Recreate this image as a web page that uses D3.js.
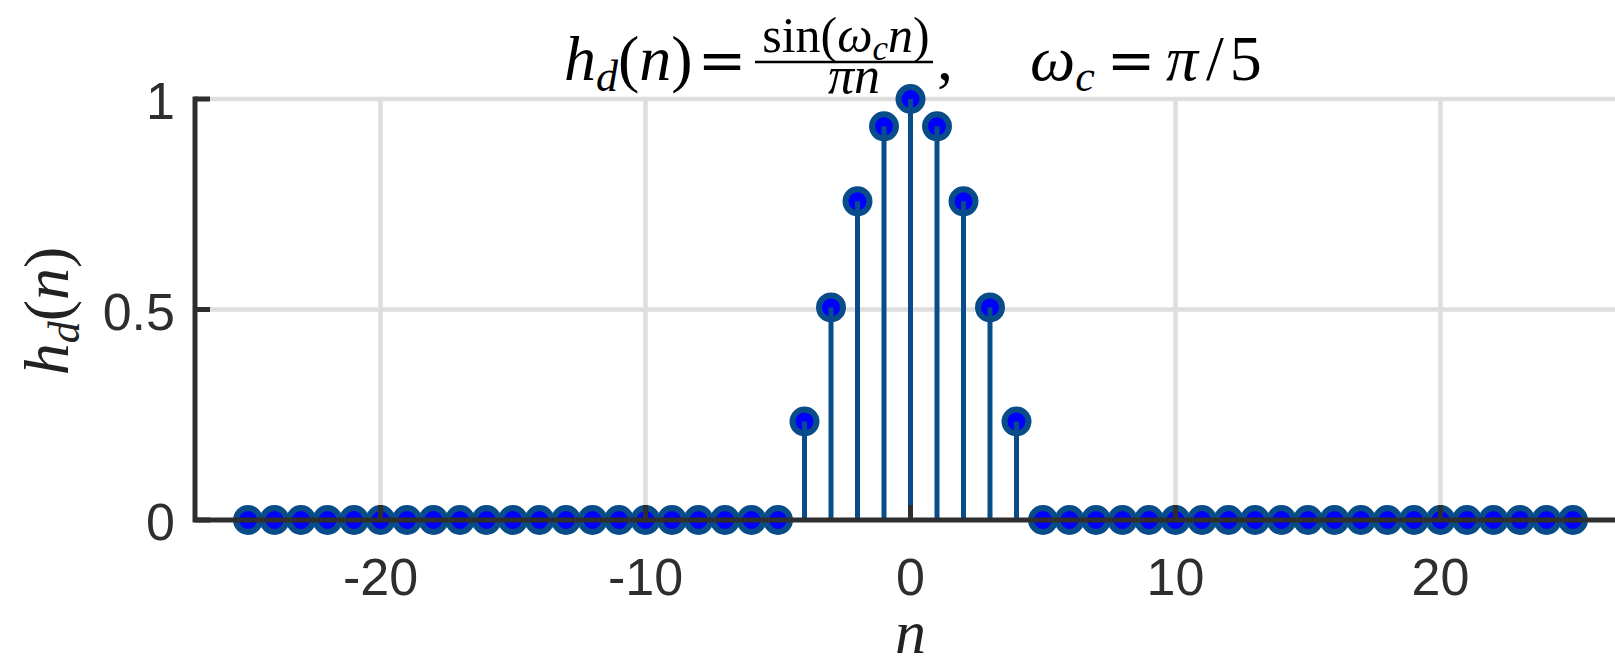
<!DOCTYPE html>
<html>
<head>
<meta charset="utf-8">
<script src="https://cdn.jsdelivr.net/npm/d3@7"></script>
<style>
  html, body { margin: 0; padding: 0; background: #fff; }
  svg { display: block; }
</style>
</head>
<body>
<svg id="chart" width="1615" height="662"></svg>
<script>
// Sample index n and ideal low-pass impulse response (normalised to h(0) = 1)
const sampleIndex = [
  -25, -24, -23, -22, -21, -20, -19, -18, -17, -16, -15, -14, -13, -12, -11,
  -10, -9, -8, -7, -6, -5, -4, -3, -2, -1, 0, 1, 2, 3, 4, 5, 6, 7, 8, 9, 10,
  11, 12, 13, 14, 15, 16, 17, 18, 19, 20, 21, 22, 23, 24, 25
];
const responseValues = [
  0, 0, 0, 0, 0, 0, 0, 0, 0, 0, 0, 0, 0, 0, 0,
  0, 0, 0, 0, 0, 0, 0.234, 0.505, 0.757, 0.935, 1, 0.935, 0.757, 0.505, 0.234, 0,
  0, 0, 0, 0, 0,
  0, 0, 0, 0, 0, 0, 0, 0, 0, 0, 0, 0, 0, 0, 0
];
const xTicks = [-20, -10, 0, 10, 20];
const yTicks = [0, 0.5, 1];
const yTickLabels = ["0", "0.5", "1"];

const W = 1615, H = 662;
const plotLeft = 195, plotTop = 99, plotBottom = 520;

const svg = d3.select("#chart");
const x = d3.scaleLinear().domain([-27, 27]).range([plotLeft, 1626]);
const y = d3.scaleLinear().domain([0, 1]).range([plotBottom, plotTop]);

const axisColor = "#2e2e2e";
const gridColor = "#dedede";
const stemColor = "#084c8a";
const markerFill = "#0000ff";
const mathFont = "'Liberation Serif', 'DejaVu Serif', serif";
const opFont = "'DejaVu Serif', serif";
const tickFont = "'Liberation Sans', Arial, sans-serif";

// grid
const grid = svg.append("g");
grid.selectAll("line.gx").data(xTicks).join("line")
  .attr("x1", d => x(d)).attr("x2", d => x(d))
  .attr("y1", y(0)).attr("y2", y(1))
  .attr("stroke", gridColor).attr("stroke-width", 4.5);
grid.selectAll("line.gy").data(yTicks.filter(d => d > 0)).join("line")
  .attr("x1", plotLeft).attr("x2", W)
  .attr("y1", d => y(d)).attr("y2", d => y(d))
  .attr("stroke", gridColor).attr("stroke-width", 4.5);

// title: h_d(n) = sin(w_c n)/(pi n),  w_c = pi/5
const title = svg.append("g").attr("font-family", mathFont).attr("fill", "#000");

function hdn(sel) {
  sel.append("tspan").attr("font-style", "italic").text("h");
  sel.append("tspan").attr("font-style", "italic").attr("font-size", 44).attr("dy", 11).text("d");
  sel.append("tspan").attr("dy", -11).text("(");
  sel.append("tspan").attr("font-style", "italic").text("n");
  sel.append("tspan").text(")");
}

hdn(title.append("text").attr("x", 564).attr("y", 80).attr("font-size", 64));
title.append("text").attr("x", 722).attr("y", 80).attr("font-family", opFont)
  .attr("font-size", 58).attr("text-anchor", "middle").text("=");

const num = title.append("text").attr("x", 846).attr("y", 52)
  .attr("font-size", 50).attr("text-anchor", "middle");
num.append("tspan").text("sin(");
num.append("tspan").attr("font-style", "italic").text("ω");
num.append("tspan").attr("font-style", "italic").attr("font-size", 35).attr("dy", 8).text("c");
num.append("tspan").attr("font-style", "italic").attr("dy", -8).text("n");
num.append("tspan").text(")");

title.append("line").attr("x1", 755).attr("x2", 933).attr("y1", 62).attr("y2", 62)
  .attr("stroke", "#000").attr("stroke-width", 2.5);

title.append("text").attr("x", 854).attr("y", 93)
  .attr("font-size", 52).attr("text-anchor", "middle").attr("font-style", "italic")
  .text("πn");

title.append("text").attr("x", 937).attr("y", 80).attr("font-size", 64).text(",");

const wc = title.append("text").attr("x", 1030).attr("y", 80).attr("font-size", 64);
wc.append("tspan").attr("font-style", "italic").text("ω");
wc.append("tspan").attr("font-style", "italic").attr("font-size", 44).attr("dy", 11).text("c");
title.append("text").attr("x", 1131).attr("y", 80).attr("font-family", opFont)
  .attr("font-size", 58).attr("text-anchor", "middle").text("=");
const pi5 = title.append("text").attr("x", 1166).attr("y", 80).attr("font-size", 64);
pi5.append("tspan").attr("font-style", "italic").text("π");
pi5.append("tspan").attr("dx", 8).text("/");
pi5.append("tspan").attr("dx", 6).text("5");

// stem markers
const pts = sampleIndex.map((n, i) => ({ n, v: responseValues[i] }));
svg.append("g").selectAll("circle").data(pts).join("circle")
  .attr("cx", d => x(d.n)).attr("cy", d => y(d.v)).attr("r", 12)
  .attr("fill", markerFill).attr("stroke", stemColor).attr("stroke-width", 6);

// stems
svg.append("g").selectAll("line").data(pts.filter(d => d.v !== 0)).join("line")
  .attr("x1", d => x(d.n)).attr("x2", d => x(d.n))
  .attr("y1", y(0)).attr("y2", d => y(d.v))
  .attr("stroke", stemColor).attr("stroke-width", 5);

// axes (ticks point inward)
const axes = svg.append("g").attr("stroke", axisColor).attr("stroke-width", 5);
axes.append("path")
  .attr("d", `M${plotLeft},${y(1)}V${y(0)}H${W + 10}`)
  .attr("fill", "none").attr("stroke-linecap", "square");
axes.selectAll("line.tx").data(xTicks).join("line")
  .attr("x1", d => x(d)).attr("x2", d => x(d))
  .attr("y1", y(0)).attr("y2", y(0) - 15);
axes.selectAll("line.ty").data(yTicks).join("line")
  .attr("x1", plotLeft).attr("x2", plotLeft + 15)
  .attr("y1", d => y(d)).attr("y2", d => y(d));

// tick labels
const labels = svg.append("g").attr("font-family", tickFont).attr("font-size", 52).attr("fill", axisColor);
labels.selectAll("text.xl").data(xTicks).join("text")
  .attr("x", d => x(d)).attr("y", 595).attr("text-anchor", "middle")
  .text(d => d);
labels.selectAll("text.yl").data(yTicks).join("text")
  .attr("x", 175).attr("y", d => y(d) + 20).attr("text-anchor", "end")
  .text((d, i) => yTickLabels[i]);

// axis titles
svg.append("text").attr("x", x(0)).attr("y", 653).attr("text-anchor", "middle")
  .attr("font-family", mathFont).attr("font-style", "italic").attr("font-size", 62)
  .attr("fill", "#222").text("n");

const yl = svg.append("text")
  .attr("transform", "translate(68,311) rotate(-90)")
  .attr("text-anchor", "middle").attr("font-family", mathFont)
  .attr("font-size", 64).attr("fill", "#222");
hdn(yl);
</script>
</body>
</html>
